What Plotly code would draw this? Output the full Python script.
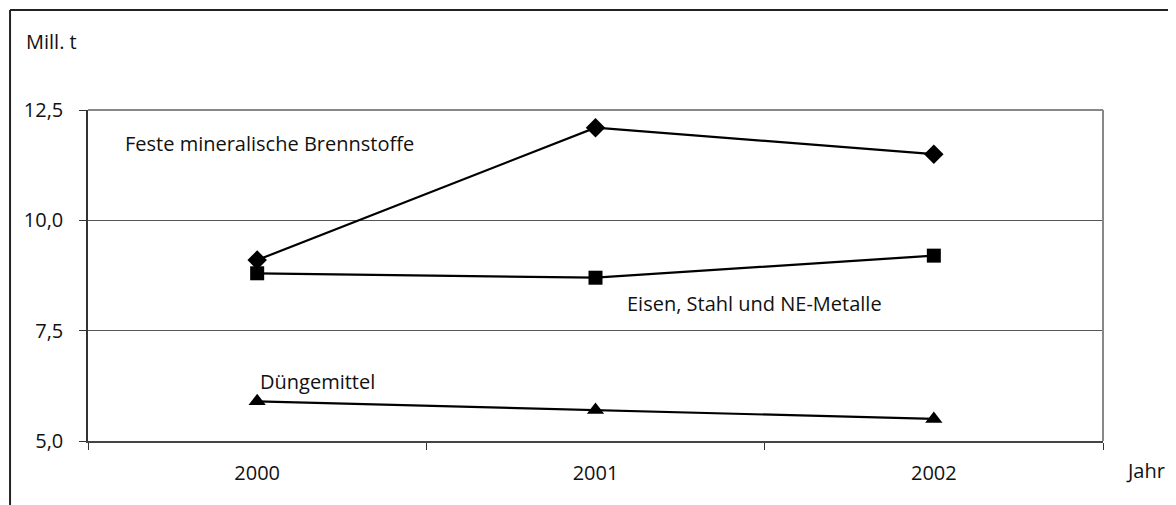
import plotly.graph_objects as go

years = ["2000", "2001", "2002"]
feste = [9.1, 12.1, 11.5]
eisen = [8.8, 8.7, 9.2]
duenge = [5.9, 5.7, 5.5]
y_ticks = [5.0, 7.5, 10.0, 12.5]
y_tick_text = ["5,0", "7,5", "10,0", "12,5"]

FONT = "Open Sans"
FS = 20
fig = go.Figure()
series = [
    (feste, "diamond", 15, "Feste mineralische Brennstoffe"),
    (eisen, "square", 14, "Eisen, Stahl und NE-Metalle"),
    (duenge, "triangle-up", 15, "Düngemittel"),
]
for vals, sym, sz, name in series:
    fig.add_trace(go.Scatter(
        x=years, y=vals, mode="lines+markers", name=name,
        line=dict(color="black", width=2.2),
        marker=dict(symbol=sym, size=sz, color="black"),
        showlegend=False,
    ))

fig.update_layout(
    width=1160, height=497,
    margin=dict(l=80, r=65, t=102, b=64),
    paper_bgcolor="white", plot_bgcolor="white",
    font=dict(family=FONT, size=FS, color="#111"),
    xaxis=dict(type="category", range=[-0.5, 2.5], tickson="boundaries",
               ticks="outside", ticklen=7, tickcolor="#333", tickwidth=1,
               showline=True, linecolor="#444", linewidth=2, mirror=False,
               showgrid=False, zeroline=False, ticklabelstandoff=13),
    yaxis=dict(range=[5, 12.5], tickvals=y_ticks, ticktext=y_tick_text,
               ticks="outside", ticklen=7, tickcolor="#333", tickwidth=1,
               showline=True, linecolor="#333", linewidth=1.5,
               showgrid=True, gridcolor="#555", gridwidth=1.2, zeroline=False,
               ticklabelstandoff=12),
)

# plot frame (top and right, gray)
fig.add_shape(type="line", xref="paper", yref="paper", x0=0, x1=1, y0=1, y1=1,
              line=dict(color="#888", width=2))
fig.add_shape(type="line", xref="paper", yref="paper", x0=1, x1=1, y0=0, y1=1,
              line=dict(color="#888", width=2))
# outer frame (left and top)
fig.add_shape(type="line", xref="paper", yref="paper", x0=-0.0768, x1=-0.0768, y0=1.302, y1=-0.2,
              line=dict(color="#222", width=2))
fig.add_shape(type="line", xref="paper", yref="paper", x0=-0.0768, x1=1.08, y0=1.302, y1=1.302,
              line=dict(color="#222", width=2))

fig.add_annotation(text="Mill. t", xref="paper", yref="paper", x=-0.063, y=1.208,
                   xanchor="left", yanchor="middle", showarrow=False)
fig.add_annotation(text="Jahr", xref="paper", yref="paper", x=1.0205, y=-0.0906,
                   xanchor="left", yanchor="middle", showarrow=False)
fig.add_annotation(text="Feste mineralische Brennstoffe", xref="paper", yref="paper",
                   x=0.0340, y=0.900, xanchor="left", yanchor="middle", showarrow=False)
fig.add_annotation(text="Eisen, Stahl und NE-Metalle", xref="paper", yref="paper",
                   x=0.529, y=0.414, xanchor="left", yanchor="middle", showarrow=False)
fig.add_annotation(text="Düngemittel", xref="paper", yref="paper",
                   x=0.1675, y=0.181, xanchor="left", yanchor="middle", showarrow=False)

fig.write_html("out.html")
